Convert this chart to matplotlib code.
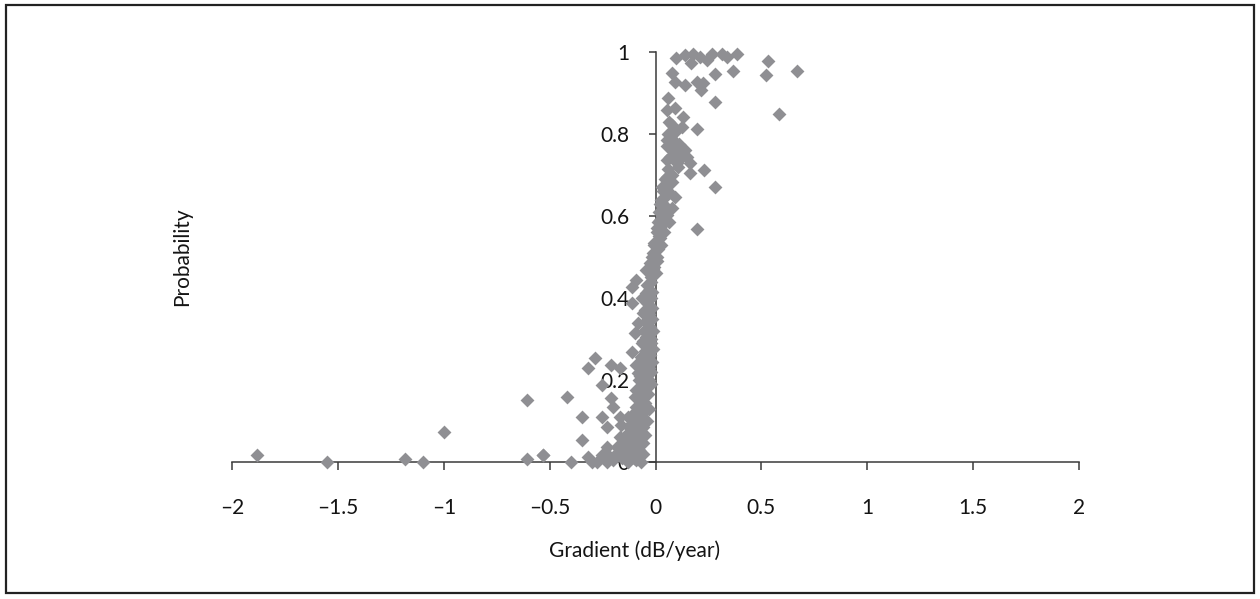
import matplotlib
matplotlib.use("Agg")
import matplotlib.pyplot as plt
import matplotlib.patches as mpatches
import numpy as np

plt.rcParams["font.family"] = ["Lato", "DejaVu Sans"]

# gradient (dB/year) against probability of progression
gradient = [
    # upper plateau
    0.098, 0.137, 0.175, 0.208, 0.170, 0.241, 0.269, 0.312, 0.340, 0.383,
    0.076, 0.283, 0.364, 0.529, 0.524, 0.666, 0.090, 0.137, 0.194, 0.217,
    0.222, 0.057, 0.279, 0.052, 0.090, 0.128, 0.581, 0.066,
    # 0.65 - 0.83
    0.076, 0.123, 0.198, 0.052, 0.066, 0.099, 0.090, 0.123, 0.052, 0.161,
    0.104, 0.231, 0.161, 0.052, 0.076, 0.279, 0.033, 0.066, 0.090, 0.028,
    0.042,
    0.050, 0.035, 0.060, 0.045, 0.080, 0.060, 0.100, 0.070, 0.085, 0.055,
    0.110, 0.075, 0.060, 0.090, 0.140, 0.150,
    # 0.4 - 0.63
    0.033, 0.076, 0.052, 0.019, 0.066, 0.005, 0.042, 0.194, 0.019, 0.028,
    -0.005, -0.014, 0.009, -0.028, -0.005, -0.043, -0.019, -0.090, -0.113, -0.038,
    -0.043,
    0.000, -0.010, 0.005, -0.015, 0.010, -0.005, 0.015, 0.005, 0.025, 0.010,
    0.030, 0.015, 0.040, 0.020,
    # 0.2 - 0.4
    -0.109, -0.066, -0.038, -0.061, -0.085, -0.038, -0.099, -0.043, -0.066, -0.019,
    -0.113, -0.043, -0.288, -0.321, -0.208, -0.170, -0.090, -0.038, -0.085, -0.043,
    # lower tail
    -0.420, -0.255, -0.345, -0.255, -0.345, -0.529, -0.397, -0.321, -0.208, -0.203,
    -0.170, -0.132, -0.090, -0.099, -0.076, -0.043, -0.076, -0.231, -0.161, -0.123,
    -0.076, -0.231, -0.184, -0.137, -0.109, -0.255, -0.274, -0.217, -0.184, -0.109,
    -0.298, -0.231, -0.090, -0.146, -0.170, -0.061, -0.085,
    # far left
    -1.884, -1.549, -1.185, -1.100, -1.001, -0.609, -0.529, -0.609,
    # dense band left of zero
    -0.020, -0.030, -0.015, -0.050, -0.020, -0.035, -0.015, -0.050, -0.030, -0.015,
    -0.045, -0.025, -0.010, -0.055, -0.035, -0.020, -0.060, -0.030, -0.010, -0.050,
    -0.025, -0.070, -0.040, -0.015, -0.055, -0.030, -0.065, -0.020, -0.045, -0.075,
    -0.030, -0.060, -0.020, -0.050, -0.090, -0.035, -0.070, -0.050, -0.080, -0.030,
    -0.060, -0.100, -0.040, -0.080, -0.110, -0.060, -0.090, -0.130, -0.050, -0.100,
    -0.070, -0.140, -0.080, -0.120, -0.060, -0.100, -0.160, -0.200, -0.240, -0.070,
    -0.130,
]
probability = [
    0.985, 0.993, 0.995, 0.988, 0.973, 0.980, 0.995, 0.995, 0.988, 0.995,
    0.949, 0.946, 0.954, 0.978, 0.944, 0.954, 0.927, 0.920, 0.927, 0.907,
    0.924, 0.888, 0.878, 0.859, 0.863, 0.841, 0.849, 0.829,
    0.822, 0.817, 0.812, 0.785, 0.768, 0.778, 0.754, 0.744, 0.737, 0.729,
    0.720, 0.712, 0.705, 0.695, 0.683, 0.671, 0.671, 0.659, 0.646, 0.639,
    0.627,
    0.650, 0.660, 0.675, 0.690, 0.700, 0.715, 0.730, 0.745, 0.760, 0.770,
    0.775, 0.790, 0.800, 0.805, 0.760, 0.745,
    0.632, 0.620, 0.602, 0.590, 0.585, 0.571, 0.561, 0.568, 0.546, 0.529,
    0.534, 0.510, 0.500, 0.485, 0.476, 0.468, 0.451, 0.444, 0.427, 0.432,
    0.412,
    0.460, 0.470, 0.490, 0.500, 0.520, 0.530, 0.550, 0.560, 0.575, 0.585,
    0.600, 0.610, 0.615, 0.630,
    0.388, 0.400, 0.395, 0.363, 0.339, 0.339, 0.315, 0.305, 0.290, 0.290,
    0.268, 0.268, 0.254, 0.229, 0.237, 0.229, 0.237, 0.229, 0.217, 0.207,
    0.159, 0.188, 0.110, 0.110, 0.054, 0.017, 0.000, 0.012, 0.156, 0.134,
    0.110, 0.110, 0.134, 0.159, 0.176, 0.181, 0.200, 0.085, 0.090, 0.085,
    0.071, 0.037, 0.037, 0.046, 0.034, 0.017, 0.000, 0.012, 0.022, 0.017,
    0.000, 0.000, 0.005, 0.024, 0.061, 0.046, 0.110,
    0.017, 0.000, 0.007, 0.000, 0.073, 0.007, 0.017, 0.151,
    0.440, 0.420, 0.415, 0.405, 0.400, 0.385, 0.375, 0.370, 0.360, 0.350,
    0.345, 0.330, 0.320, 0.320, 0.310, 0.300, 0.295, 0.285, 0.275, 0.270,
    0.260, 0.255, 0.250, 0.245, 0.240, 0.230, 0.225, 0.220, 0.215, 0.210,
    0.200, 0.195, 0.190, 0.180, 0.175, 0.165, 0.160, 0.145, 0.140, 0.130,
    0.120, 0.120, 0.100, 0.100, 0.095, 0.085, 0.075, 0.070, 0.065, 0.055,
    0.045, 0.045, 0.030, 0.025, 0.020, 0.010, 0.010, 0.005, 0.010, 0.000,
    0.000,
]

x_ticks = [-2, -1.5, -1, -0.5, 0, 0.5, 1, 1.5, 2]
x_tick_labels = ["\u20132", "\u20131.5", "\u20131", "\u20130.5", "0", "0.5", "1", "1.5", "2"]
y_ticks = [0, 0.2, 0.4, 0.6, 0.8, 1]
y_tick_labels = ["0", "0.2", "0.4", "0.6", "0.8", "1"]

W, H = 1260, 599
fig = plt.figure(figsize=(W / 100, H / 100), dpi=100)
ax = fig.add_axes([232 / W, 1 - 462 / H, (1079 - 232) / W, (462 - 52) / H])

ax.scatter(gradient, probability, marker="D", s=50, color="#8f8f93",
           linewidths=0, clip_on=False, zorder=3)

ax.set_xlim(-2, 2)
ax.set_ylim(0, 1)

# axes cross at the origin
ax.spines["left"].set_position(("data", 0))
ax.spines["bottom"].set_position(("data", 0))
ax.spines["top"].set_visible(False)
ax.spines["right"].set_visible(False)
for side in ("left", "bottom"):
    ax.spines[side].set_color("#3a3a3a")
    ax.spines[side].set_linewidth(1.1)
    ax.spines[side].set_zorder(2)

ax.set_xticks(x_ticks)
ax.set_xticklabels(x_tick_labels)
ax.set_yticks(y_ticks)
ax.set_yticklabels(y_tick_labels)
ax.tick_params(axis="x", direction="out", length=6, width=1.1, color="#3a3a3a",
               pad=20, labelsize=15, labelcolor="#141414")
ax.tick_params(axis="y", direction="out", length=5, width=1.1, color="#3a3a3a",
               pad=14, labelsize=15, labelcolor="#141414")

fig.text(635 / W, 1 - 551 / H, "Gradient (dB/year)", ha="center", va="center",
         fontsize=15, color="#141414")
fig.text(182 / W, 1 - 257 / H, "Probability", ha="center", va="center",
         rotation=90, fontsize=15, color="#141414")

# outer frame
fig.patches.append(mpatches.Rectangle(
    (6 / W, 6 / H), 1248 / W, 588 / H, transform=fig.transFigure,
    fill=False, edgecolor="#222222", linewidth=1.6))

fig.savefig("out.png", dpi=100)
